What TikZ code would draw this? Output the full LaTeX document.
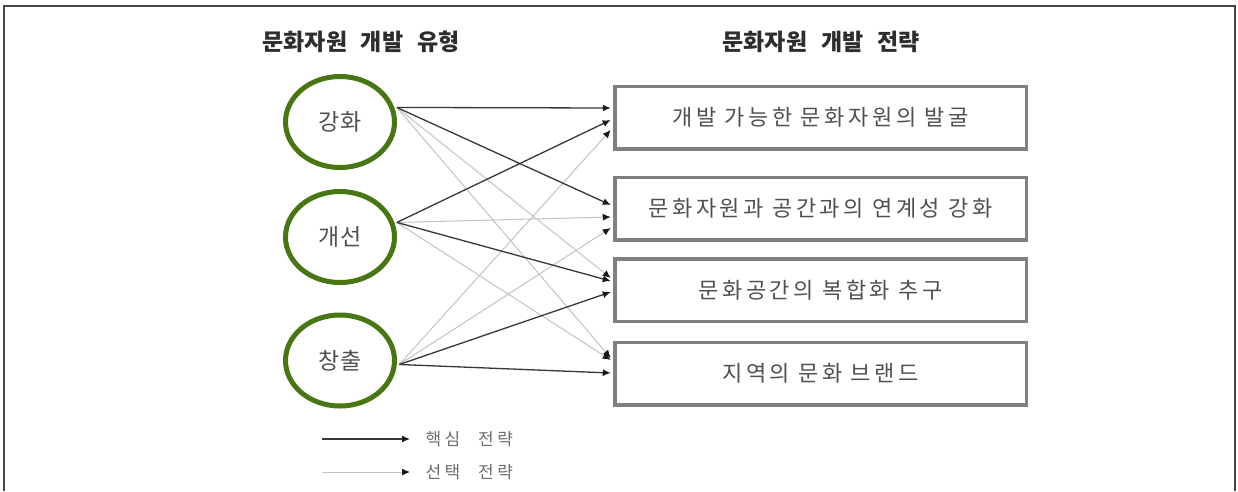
\documentclass[tikz,border=0pt]{standalone}
\usepackage{fontspec}
\setmainfont{Noto Sans CJK KR}
\newfontfamily\krsp[LetterSpace=16]{Noto Sans CJK KR}
\newfontfamily\krleg[LetterSpace=20,WordSpace=2.5]{Noto Sans CJK KR}
\newfontfamily\krtitle[WordSpace=2.6]{Noto Sans CJK KR}
\usetikzlibrary{shapes.geometric,arrows.meta}
\definecolor{ringgreen}{RGB}{72,118,18}
\definecolor{boxgray}{RGB}{128,128,128}
\definecolor{darkline}{RGB}{55,55,55}
\definecolor{lightline}{RGB}{195,195,195}
\definecolor{txtgray}{RGB}{80,80,80}
\definecolor{legtxt}{RGB}{110,110,110}
\definecolor{titlegray}{RGB}{45,45,45}
\definecolor{framegray}{RGB}{70,70,70}
\begin{document}
\begin{tikzpicture}[x=1pt,y=-1pt,
  ring/.style={ellipse, draw=ringgreen, line width=5pt, minimum width=109pt, minimum height=91pt, inner sep=0pt, text=txtgray, font=\fontsize{23}{25}\selectfont},
  stratbox/.style={rectangle, draw=boxgray, line width=3.5pt, minimum width=411.5pt, minimum height=62.5pt, inner sep=0pt, text=txtgray, font=\krsp\fontsize{22}{25}\selectfont},
  headtext/.style={text=titlegray, font=\krtitle\bfseries\fontsize{23}{25}\selectfont},
  core/.style={draw=darkline, line width=1.3pt, -{Latex[length=8pt,width=7pt,color=black!90]}},
  option/.style={draw=lightline, line width=1pt, -{Latex[length=8pt,width=7pt,color=black!90]}},
  legtext/.style={anchor=west, text=legtxt, font=\krleg\fontsize{17}{19}\selectfont}
]
\useasboundingbox (0,0) rectangle (1238,491);
\fill[white] (0,0) rectangle (1238,491);
\draw[framegray, line width=2pt] (4,491) -- (4,6) -- (1235,6) -- (1235,491);

\node[headtext] (t1) at (361,42) {문화자원 개발 유형};
\node[headtext] (t2) at (821,42) {문화자원 개발 전략};

\node[ring] (c1) at (340,122) {강화};
\node[ring] (c2) at (340,237) {개선};
\node[ring] (c3) at (340,360.5) {창출};

\node[stratbox] (b1) at (820.5,117.5) {개발 가능한 문화자원의 발굴};
\node[stratbox] (b2) at (820.5,208.5) {문화자원과 공간과의 연계성 강화};
\node[stratbox] (b3) at (820.5,290) {문화공간의 복합화 추구};
\node[stratbox] (b4) at (820.5,373.5) {지역의 문화 브랜드};

\coordinate (s1) at ([xshift=2.5pt]c1.15);
\coordinate (s2) at ([xshift=2.5pt]c2.15);
\coordinate (s3) at ([xshift=2.5pt]c3.-4);

% optional (light) strategies
\draw[option] (s1) -- ([xshift=-2.25pt,yshift=12pt]b3.west);
\draw[option] (s1) -- ([xshift=-2.25pt,yshift=15.5pt]b4.west);
\draw[option] (s2) -- ([xshift=-2.25pt,yshift=-8.5pt]b2.west);
\draw[option] (s2) -- ([xshift=-2.25pt,yshift=13.5pt]b4.west);
\draw[option] (s3) -- ([xshift=-2.25pt,yshift=-12.5pt]b1.west);
\draw[option] (s3) -- ([xshift=-2.25pt,yshift=-19.5pt]b2.west);

% core (dark) strategies
\draw[core] (s1) -- ([xshift=-2.25pt,yshift=9.5pt]b1.west);
\draw[core] (s1) -- ([xshift=-2.25pt,yshift=3.5pt]b2.west);
\draw[core] (s2) -- ([xshift=-2.25pt,yshift=-2.5pt]b1.west);
\draw[core] (s2) -- ([xshift=-2.25pt,yshift=9pt]b3.west);
\draw[core] (s3) -- ([xshift=-2.25pt,yshift=-2pt]b3.west);
\draw[core] (s3) -- ([xshift=-2.25pt,yshift=0.5pt]b4.west);

% legend
\coordinate (l1a) at (322,439);
\coordinate (l1b) at (410,439);
\draw[core] (l1a) -- (l1b);
\node[legtext] (lt1) at (422,439) {핵심 전략};
\coordinate (l2a) at (322,472);
\coordinate (l2b) at (410,472);
\draw[option] (l2a) -- (l2b);
\node[legtext] (lt2) at (422,472) {선택 전략};
\end{tikzpicture}
\end{document}
